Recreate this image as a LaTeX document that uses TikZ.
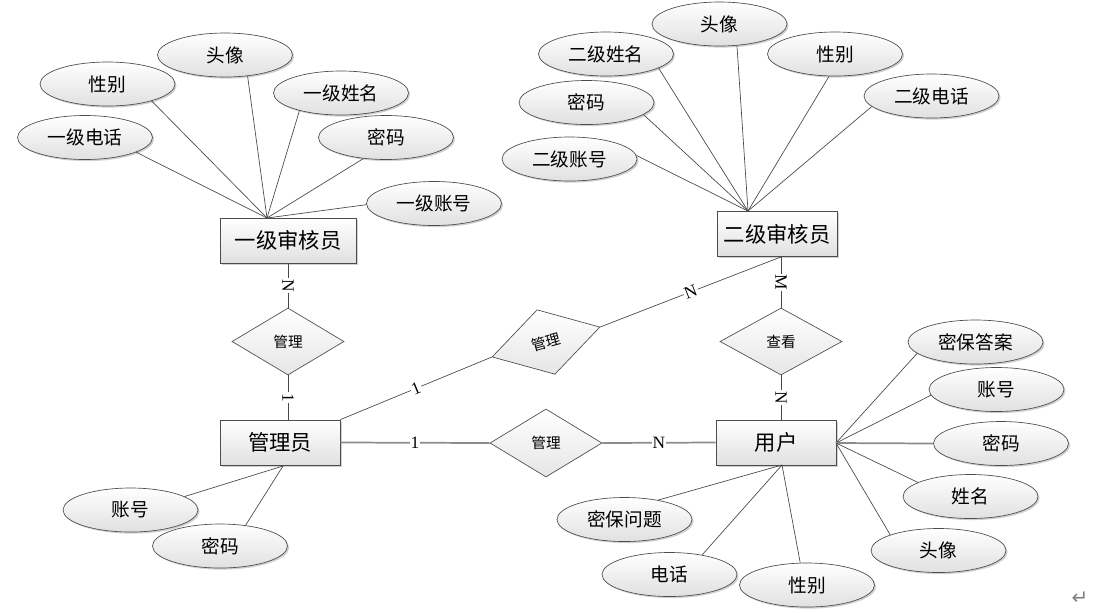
\documentclass[tikz,border=0pt]{standalone}
\usepackage{fontspec}
\setmainfont{Liberation Serif}
\newfontfamily\cjkfont{Noto Sans CJK SC}
\newfontfamily\symfont{DejaVu Sans}
\usetikzlibrary{shapes.geometric,shadows}
\begin{document}
\begin{tikzpicture}[x=0.75pt,y=-0.75pt,
  conn/.style={draw=black!72, line width=0.5pt},
  thickconn/.style={draw=black!45, line width=1.3pt},
  shadowed/.style={drop shadow={shadow xshift=1.2pt, shadow yshift=-1.2pt, opacity=0.3, fill=black!60}},
  entity/.style={rectangle, draw=black!70, line width=0.6pt, top color=white, bottom color=black!12,
    minimum width=90pt, minimum height=33.75pt, inner sep=0pt, shadowed,
    font=\cjkfont\fontsize{16}{18}\selectfont},
  attr/.style={ellipse, draw=black!70, line width=0.5pt, top color=white, bottom color=black!12,
    minimum width=101.25pt, minimum height=33pt, inner sep=0pt, shadowed,
    font=\cjkfont\fontsize{14}{16}\selectfont},
  rel/.style={diamond, draw=black!70, line width=0.5pt, top color=white, bottom color=black!10,
    minimum width=84pt, minimum height=50.25pt, inner sep=0pt,
    font=\cjkfont\fontsize{11}{13}\selectfont},
  card/.style={fill=white, inner sep=0.8pt, font=\fontsize{13}{14}\selectfont}
]
\fill[white] (0,0) rectangle (1095,612);
\useasboundingbox (0,0) rectangle (1095,612);

% entities
\node[entity, minimum width=102pt] (sh1) at (288,240.5) {一级审核员};
\node[entity] (sh2) at (777,234) {二级审核员};
\node[entity] (admin) at (280,442.5) {管理员};
\node[entity] (user) at (776,442.5) {用户};

% relationships
\node[rel] (r1) at (288,341.5) {管理};
\node[rel, rotate=15.5] (r2) at (546,342) {管理};
\node[rel, minimum width=91.5pt] (r3) at (781,341.5) {查看};
\node[rel, minimum height=51pt] (r4) at (546,443) {管理};

% hubs
\coordinate (h1) at (267,218);
\coordinate (h2) at (748,211);
\coordinate (hr) at (836,443);
\coordinate (hb) at (782,465);
\coordinate (ha) at (283,466);

% attributes of 一级审核员
\node[attr] (a1) at (107.5,84) {性别};
\node[attr] (a2) at (225,55) {头像};
\node[attr] (a3) at (341,93) {一级姓名};
\node[attr] (a4) at (386,137.5) {密码};
\node[attr] (a5) at (85,137.5) {一级电话};
\node[attr] (a6) at (434,203.5) {一级账号};

% attributes of 二级审核员
\node[attr] (b1) at (719.5,24) {头像};
\node[attr] (b2) at (606,54) {二级姓名};
\node[attr] (b3) at (835,54) {性别};
\node[attr] (b4) at (586.5,102.5) {密码};
\node[attr] (b5) at (931.5,96) {二级电话};
\node[attr] (b6) at (569.5,159) {二级账号};

% attributes of 用户
\node[attr] (c1) at (975.5,342) {密保答案};
\node[attr] (c2) at (996.5,389.5) {账号};
\node[attr] (c3) at (1001,443.5) {密码};
\node[attr] (c4) at (970.5,496.5) {姓名};
\node[attr] (c5) at (938.5,550.5) {头像};
\node[attr] (c6) at (624.5,519.5) {密保问题};
\node[attr] (c7) at (669.5,574.5) {电话};
\node[attr] (c8) at (807,585) {性别};

% attributes of 管理员
\node[attr] (d1) at (130.5,510) {账号};
\node[attr] (d2) at (220,546) {密码};

% attribute connectors
\draw[conn] (h1) -- (a1.-21.6);
\draw[conn] (h1) -- (a2.-43.7);
\draw[conn] (h1) -- (a3.-157.8);
\draw[conn] (h1) -- (a4.-137.5);
\draw[conn] (h1) -- (a5.-16.8);
\draw[conn] (h1) -- (a6.-179);

\draw[conn] (h2) -- (b1.-51.5);
\draw[conn] (h2) -- (b2.-15);
\draw[conn] (h2) -- (b3.-105);
\draw[conn] (h2) -- (b4.-12);
\draw[conn] (h2) -- (b5.-170.8);
\draw[conn] (h2) -- (b6.3.4);

\draw[conn] (hr) -- (c1.-169);
\draw[conn] (hr) -- (c2.-175.3);
\draw[thickconn] (hr) -- (c3.180);
\draw[conn] (hr) -- (c4.165);
\draw[conn] (hr) -- (c5.162.3);
\draw[conn] (hb) -- (c6.30);
\draw[conn] (hb) -- (c7.31.2);
\draw[conn] (hb) -- (c8.107.6);

\draw[conn] (ha) -- (d1.14.4);
\draw[conn] (ha) -- (d2.39.2);

% relationship connectors
\draw[conn] (sh1.south) -- node[card, rotate=-90]{N} (r1.north);
\draw[conn] (r1.south) -- node[card, rotate=-90]{1} (r1.south |- admin.north);
\draw[conn] (admin.north east) -- node[card, sloped]{1} (r2.west);
\draw[conn] (r2.east) -- node[card, sloped]{N} (r3.north |- sh2.south);
\draw[conn] (r3.north |- sh2.south) -- node[card, rotate=-90]{M} (r3.north);
\draw[conn] (r3.south) -- node[card, rotate=-90]{N} (r3.south |- user.north);
\draw[thickconn] (admin.east) -- node[card]{1} (r4.west);
\draw[thickconn] (r4.east) -- node[card]{N} (user.west);

% paragraph mark
\node[text=black!50, font=\symfont\fontsize{15}{15}\selectfont] (ret) at (1080,598) {↵};
\end{tikzpicture}
\end{document}
